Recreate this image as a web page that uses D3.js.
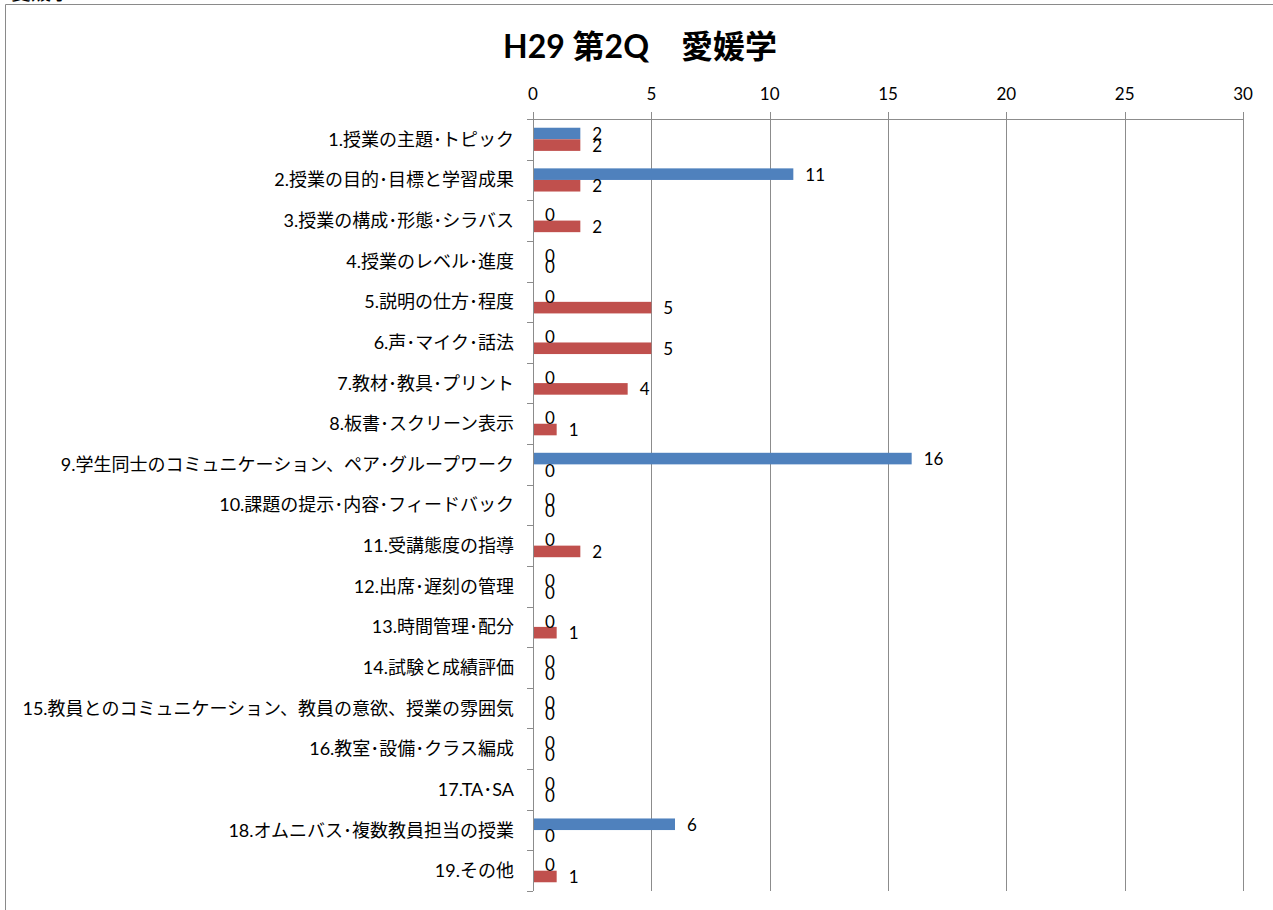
<!DOCTYPE html>
<html><head><meta charset="utf-8">
<script src="https://cdn.jsdelivr.net/npm/d3@7"></script>
<style>
html,body{margin:0;padding:0;background:#fff;}
svg{display:block;}
text{font-family:"Lato","Noto Sans CJK JP",sans-serif;fill:#000;}
</style></head>
<body>
<svg id="chart" width="1273" height="910"></svg>
<script>
const title = "H29 第2Q\u3000愛媛学";
const sheetLabel = "愛媛学";
const categories = [
  "1.授業の主題･トピック",
  "2.授業の目的･目標と学習成果",
  "3.授業の構成･形態･シラバス",
  "4.授業のレベル･進度",
  "5.説明の仕方･程度",
  "6.声･マイク･話法",
  "7.教材･教具･プリント",
  "8.板書･スクリーン表示",
  "9.学生同士のコミュニケーション、ペア･グループワーク",
  "10.課題の提示･内容･フィードバック",
  "11.受講態度の指導",
  "12.出席･遅刻の管理",
  "13.時間管理･配分",
  "14.試験と成績評価",
  "15.教員とのコミュニケーション、教員の意欲、授業の雰囲気",
  "16.教室･設備･クラス編成",
  "17.TA･SA",
  "18.オムニバス･複数教員担当の授業",
  "19.その他"
];
const seriesNames = ["系列1", "系列2"];
const seriesBlue = [2, 11, 0, 0, 0, 0, 0, 0, 16, 0, 0, 0, 0, 0, 0, 0, 0, 6, 0];
const seriesRed  = [2, 2, 2, 0, 5, 5, 4, 1, 0, 0, 2, 0, 1, 0, 0, 0, 0, 0, 1];
const xTicks = [0, 5, 10, 15, 20, 25, 30];
const colors = ["#4F81BD", "#C0504D"];

const svg = d3.select("#chart");

// outer frame
svg.append("line").attr("x1", 5.5).attr("x2", 5.5).attr("y1", 4.5).attr("y2", 910).attr("stroke", "#8a8a8a");
svg.append("line").attr("x1", 5.5).attr("x2", 1273).attr("y1", 4.5).attr("y2", 4.5).attr("stroke", "#8a8a8a");
svg.append("text").attr("x", 11).attr("y", 0).attr("font-size", 20).text(sheetLabel);

// title
svg.append("text").attr("x", 640).attr("y", 58).attr("text-anchor", "middle")
  .attr("font-size", 32).attr("font-weight", "bold").text(title);

const x = d3.scaleLinear().domain([0, 30]).range([533, 1243]);
const y = d3.scaleBand().domain(categories).range([119, 891]).paddingInner(0.43).paddingOuter(0.215);
const ys = d3.scaleBand().domain(seriesNames).range([0, y.bandwidth()]);

const grid = svg.append("g");
// vertical gridlines with small top ticks
grid.selectAll("line.g").data(xTicks).join("line")
  .attr("x1", d => Math.round(x(d)) + 0.5).attr("x2", d => Math.round(x(d)) + 0.5)
  .attr("y1", 112).attr("y2", 891).attr("stroke", "#8c8c8c").attr("stroke-width", 1);
// top axis line
grid.append("line").attr("x1", x(0)).attr("x2", Math.round(x(30)) + 1).attr("y1", 119.5).attr("y2", 119.5)
  .attr("stroke", "#8c8c8c");
// top axis labels
grid.selectAll("text.t").data(xTicks).join("text")
  .attr("x", d => x(d)).attr("y", 100).attr("text-anchor", "middle").attr("font-size", 17)
  .text(d => d);

// left axis ticks at band boundaries
const bounds = categories.map(c => y(c) - y.step() * y.paddingInner() / 2);
bounds.push(891);
grid.selectAll("line.lt").data(bounds).join("line")
  .attr("x1", 527).attr("x2", 533).attr("y1", d => Math.round(d) + 0.5).attr("y2", d => Math.round(d) + 0.5)
  .attr("stroke", "#8c8c8c");

// category labels
svg.selectAll("text.cat").data(categories).join("text")
  .attr("x", 514).attr("y", d => y(d) + y.bandwidth() / 2)
  .attr("dy", "0.36em").attr("text-anchor", "end").attr("font-size", 18)
  .text(d => d);

const data = [];
categories.forEach((c, i) => {
  data.push({cat: c, s: seriesNames[0], v: seriesBlue[i], color: colors[0]});
  data.push({cat: c, s: seriesNames[1], v: seriesRed[i], color: colors[1]});
});

svg.selectAll("rect.bar").data(data).join("rect")
  .attr("x", x(0)).attr("y", d => y(d.cat) + ys(d.s))
  .attr("width", d => x(d.v) - x(0)).attr("height", ys.bandwidth())
  .attr("fill", d => d.color);

// left axis line (drawn over bars)
svg.append("line").attr("x1", 533.5).attr("x2", 533.5).attr("y1", 119).attr("y2", 891).attr("stroke", "#8c8c8c");

svg.selectAll("text.lbl").data(data).join("text")
  .attr("x", d => x(d.v) + 12).attr("y", d => y(d.cat) + ys(d.s) + ys.bandwidth() / 2)
  .attr("dy", "0.38em").attr("font-size", 17)
  .text(d => d.v);
</script>
</body></html>
